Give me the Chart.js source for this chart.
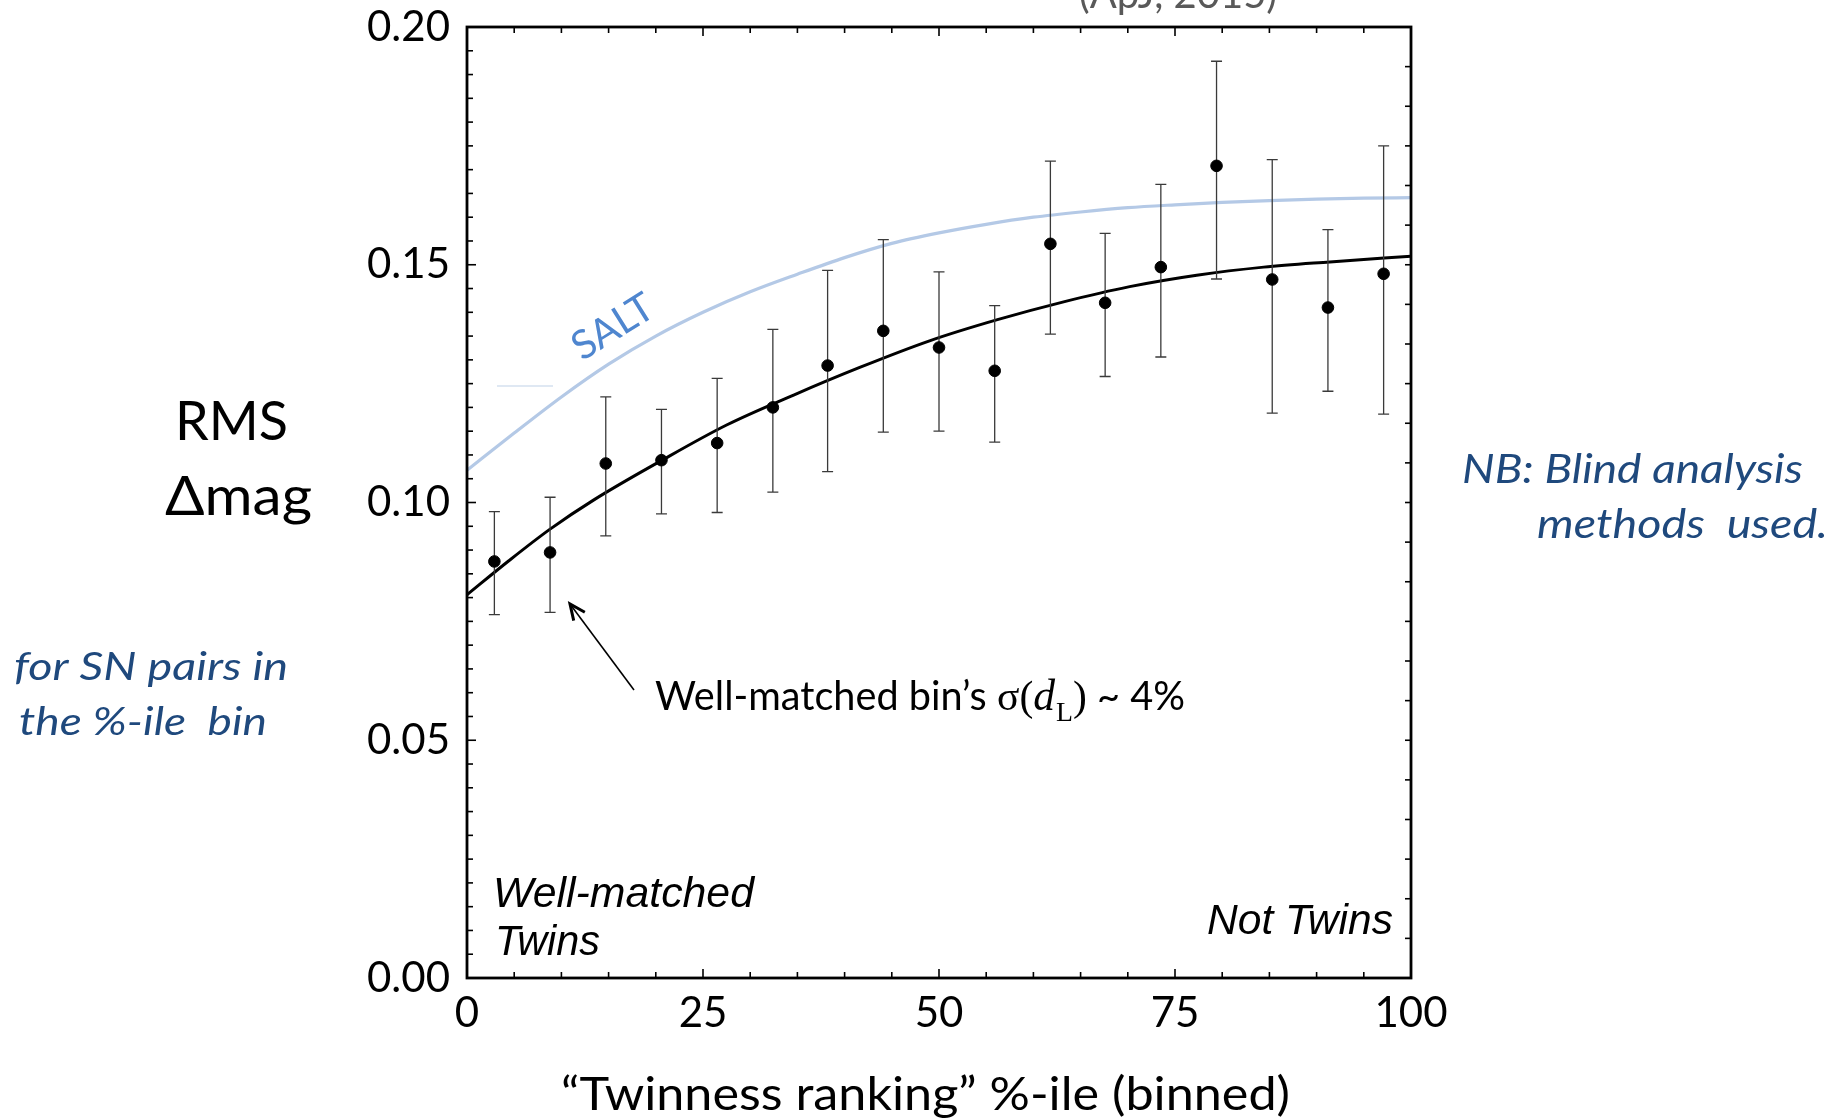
<!DOCTYPE html>
<html><head><meta charset="utf-8">
<script src="https://cdn.jsdelivr.net/npm/chart.js@4.4.1/dist/chart.umd.min.js"></script>
<style>html,body{margin:0;padding:0;background:#fff;overflow:hidden}#wrap{position:relative;width:1832px;height:1120px}</style>
</head><body><div id="wrap"><canvas id="c" width="1832" height="1120"></canvas></div>
<script>
// ---- data ----
const binCenters = [2.9, 8.8, 14.7, 20.6, 26.5, 32.4, 38.2, 44.1, 50.0, 55.9, 61.8, 67.6, 73.5, 79.4, 85.3, 91.2, 97.1];
const rmsValues  = [0.0876, 0.0895, 0.1082, 0.1089, 0.1125, 0.1200, 0.1288, 0.1361, 0.1326, 0.1277, 0.1544, 0.1420, 0.1495, 0.1708, 0.1469, 0.1410, 0.1481];
const errLow     = [0.0764, 0.0769, 0.0930, 0.0976, 0.0979, 0.1022, 0.1065, 0.1148, 0.1150, 0.1127, 0.1354, 0.1265, 0.1306, 0.1470, 0.1188, 0.1234, 0.1186];
const errHigh    = [0.0981, 0.1011, 0.1222, 0.1196, 0.1261, 0.1364, 0.1488, 0.1553, 0.1485, 0.1414, 0.1718, 0.1566, 0.1669, 0.1928, 0.1721, 0.1574, 0.1750];
const fitX  = [0, 4.4, 8.8, 13.4, 20.4, 27.5, 34.6, 41.6, 49.0, 56.1, 63.2, 70.2, 77.3, 84.4, 91.4, 100];
const fitY  = [0.0806, 0.0877, 0.0944, 0.1005, 0.1086, 0.1163, 0.1226, 0.1284, 0.1340, 0.1384, 0.1422, 0.1454, 0.1478, 0.1495, 0.1506, 0.1518];
const saltX = [0, 5, 10, 15, 20, 25, 30, 35, 40, 45, 50, 55, 60, 65, 70, 75, 80, 85, 90, 95, 100];
const saltY = [0.1068, 0.1146, 0.1222, 0.1291, 0.1350, 0.1400, 0.1443, 0.1480, 0.1515, 0.1545, 0.1567, 0.1585, 0.1600, 0.1611, 0.1620, 0.1626, 0.1631, 0.1635, 0.1638, 0.1640, 0.1641];
const xTicks = [0, 25, 50, 75, 100];
const yTicks = [0.00, 0.05, 0.10, 0.15, 0.20];

const pts = (xs, ys) => xs.map((x, i) => ({x: x, y: ys[i]}));

function fitText(ctx, text, left, right, base, font, color) {
  ctx.save();
  ctx.font = font;
  const w = ctx.measureText(text).width;
  const sx = (right - left) / w;
  ctx.translate(left, base);
  ctx.scale(sx, 1);
  ctx.fillStyle = color;
  ctx.textAlign = 'left';
  ctx.textBaseline = 'alphabetic';
  ctx.fillText(text, 0, 0);
  ctx.restore();
}
function plainText(ctx, text, x, base, font, color, align) {
  ctx.save();
  ctx.font = font; ctx.fillStyle = color;
  ctx.textAlign = align || 'left'; ctx.textBaseline = 'alphabetic';
  ctx.fillText(text, x, base);
  ctx.restore();
}
// draws a run of [text, font, dy] pieces scaled to span left..right
function fitRun(ctx, pieces, left, right, base, color) {
  ctx.save();
  let total = 0;
  const widths = pieces.map(p => { ctx.font = p[1]; const w = ctx.measureText(p[0]).width + (p[3] || 0); total += w; return w; });
  const sx = (right - left) / total;
  ctx.translate(left, base);
  ctx.scale(sx, 1);
  ctx.fillStyle = color; ctx.textAlign = 'left'; ctx.textBaseline = 'alphabetic';
  let cx = 0;
  pieces.forEach((p, i) => { ctx.font = p[1]; ctx.fillText(p[0], cx, p[2] || 0); cx += widths[i]; });
  ctx.restore();
}

const errorBars = {
  id: 'errorBars',
  afterDatasetDraw(chart, args) {
    if (args.index !== 1) return;
    const {ctx, scales: {x, y}} = chart;
    ctx.save();
    ctx.strokeStyle = '#3a3a3a';
    ctx.lineWidth = 1.3;
    binCenters.forEach((bx, i) => {
      const px = x.getPixelForValue(bx);
      const yl = y.getPixelForValue(errLow[i]);
      const yh = y.getPixelForValue(errHigh[i]);
      ctx.beginPath();
      ctx.moveTo(px, yl); ctx.lineTo(px, yh);
      ctx.moveTo(px - 5.5, yl); ctx.lineTo(px + 5.5, yl);
      ctx.moveTo(px - 5.5, yh); ctx.lineTo(px + 5.5, yh);
      ctx.stroke();
    });
    ctx.restore();
  }
};

const frame = {
  id: 'frame',
  afterDraw(chart) {
    const {ctx, chartArea: a, scales: {x, y}} = chart;
    ctx.save();
    ctx.strokeStyle = '#000';
    ctx.lineWidth = 1.6;
    const seg = (x1, y1, x2, y2) => { ctx.beginPath(); ctx.moveTo(x1, y1); ctx.lineTo(x2, y2); ctx.stroke(); };
    for (let i = 0; i <= 20; i++) {
      const px = x.getPixelForValue(i * 5);
      const L = (i % 5 === 0) ? 9 : 6;
      seg(px, a.bottom, px, a.bottom - L);
      seg(px, a.top, px, a.top + L);
    }
    for (let i = 0; i <= 40; i++) {
      const py = y.getPixelForValue(i * 0.005);
      const L = (i % 10 === 0) ? 9 : 6;
      seg(a.left, py, a.left + L, py);
    }
    for (let i = 0; i <= 24; i++) {
      const py = y.getPixelForValue(i * 0.2 / 24);
      seg(a.right, py, a.right - 6, py);
    }
    ctx.lineWidth = 2.8;
    ctx.strokeRect(a.left, a.top, a.right - a.left, a.bottom - a.top);
    ctx.restore();

    // ---- texts ----
    const blue = '#1F497D';
    fitText(ctx, 'RMS', 175, 288, 440, '54px Lato', '#000');
    fitText(ctx, '\u0394mag', 165, 312, 515, '54px Lato', '#000');
    fitText(ctx, 'for SN pairs in', 14, 288, 680, 'italic 38px Lato', blue);
    fitText(ctx, 'the %-ile  bin', 19, 267, 735, 'italic 38px Lato', blue);
    fitText(ctx, 'NB: Blind analysis', 1462, 1803, 483, 'italic 40px Lato', blue);
    fitText(ctx, 'methods  used.', 1537, 1828, 538, 'italic 40px Lato', blue);
    fitText(ctx, '\u201CTwinness ranking\u201D %-ile (binned)', 561, 1290, 1110, '47px Lato', '#000');
    plainText(ctx, '(ApJ, 2015)', 1178, 8, '40px Lato', '#595959', 'center');

    // in-plot labels
    fitText(ctx, 'Well-matched', 493, 754, 907, 'italic 42px "Liberation Sans"', '#000');
    fitText(ctx, 'Twins', 495, 600, 955, 'italic 42px "Liberation Sans"', '#000');
    fitText(ctx, 'Not Twins', 1207, 1393, 934, 'italic 42px "Liberation Sans"', '#000');

    // annotation
    fitRun(ctx, [
      ['Well-matched bin\u2019s ', '40px Lato', 0],
      ['\u03C3(', '42px "Liberation Serif"', 0],
      ['d', 'italic 44px "Liberation Serif"', 0, 1],
      ['L', '28px "Liberation Serif"', 11],
      [')', '42px "Liberation Serif"', 0],
      [' ~ 4%', '40px Lato', 0]
    ], 655, 1185, 710, '#000');

    // arrow
    ctx.save();
    ctx.strokeStyle = '#000';
    ctx.lineWidth = 1.6;
    ctx.beginPath(); ctx.moveTo(634, 690); ctx.lineTo(570, 604); ctx.stroke();
    ctx.lineWidth = 3;
    const ang = Math.atan2(690 - 604, 634 - 570);
    const hl = 17, spread = 0.42;
    ctx.beginPath();
    ctx.moveTo(570 + hl * Math.cos(ang - spread), 604 + hl * Math.sin(ang - spread));
    ctx.lineTo(570, 604);
    ctx.lineTo(570 + hl * Math.cos(ang + spread), 604 + hl * Math.sin(ang + spread));
    ctx.stroke();
    ctx.restore();

    // SALT label
    ctx.save();
    ctx.translate(613, 327);
    ctx.rotate(-32 * Math.PI / 180);
    ctx.font = '40px Lato';
    ctx.fillStyle = '#4F86CF';
    ctx.textAlign = 'center'; ctx.textBaseline = 'middle';
    ctx.fillText('SALT', 0, 0);
    ctx.restore();

    // faint residue mark
    ctx.save();
    ctx.strokeStyle = 'rgba(184,204,228,0.45)';
    ctx.lineWidth = 2;
    ctx.beginPath(); ctx.moveTo(497, 386); ctx.lineTo(553, 386); ctx.stroke();
    ctx.restore();
  }
};

new Chart(document.getElementById('c'), {
  type: 'scatter',
  data: {
    datasets: [
      { label: 'bins', data: pts(binCenters, rmsValues), backgroundColor: '#000', borderColor: '#000',
        pointRadius: 5.8, pointHoverRadius: 5.8, showLine: false },
      { label: 'fit', data: pts(fitX, fitY), showLine: true, borderColor: '#000', borderWidth: 3,
        pointRadius: 0, cubicInterpolationMode: 'monotone', fill: false },
      { label: 'SALT', data: pts(saltX, saltY), showLine: true, borderColor: '#B4C9E6', borderWidth: 3.2,
        pointRadius: 0, cubicInterpolationMode: 'monotone', fill: false }
    ]
  },
  options: {
    responsive: false, animation: false, devicePixelRatio: 1,
    layout: { padding: { left: 0, right: 421, top: 27, bottom: 0 } },
    plugins: { legend: { display: false }, tooltip: { enabled: false } },
    scales: {
      x: {
        type: 'linear', min: 0, max: 100, position: 'bottom',
        afterFit(s) { s.height = 142; s.paddingLeft = 0; s.paddingRight = 0; },
        afterBuildTicks(s) { s.ticks = xTicks.map(v => ({value: v})); },
        grid: { display: false, drawTicks: false }, border: { display: false },
        ticks: { font: { family: 'Lato', size: 42, lineHeight: 1.2 }, color: '#000', padding: 10,
                 maxRotation: 0, autoSkip: false, callback: v => String(v) }
      },
      y: {
        type: 'linear', min: 0, max: 0.2, position: 'left',
        afterFit(s) { s.width = 467; s.paddingTop = 0; s.paddingBottom = 0; },
        afterBuildTicks(s) { s.ticks = yTicks.map(v => ({value: v})); },
        grid: { display: false, drawTicks: false }, border: { display: false },
        ticks: { font: { family: 'Lato', size: 42 }, color: '#000', padding: 17,
                 autoSkip: false, callback: v => Number(v).toFixed(2) }
      }
    }
  },
  plugins: [errorBars, frame]
});
</script>
</body></html>
